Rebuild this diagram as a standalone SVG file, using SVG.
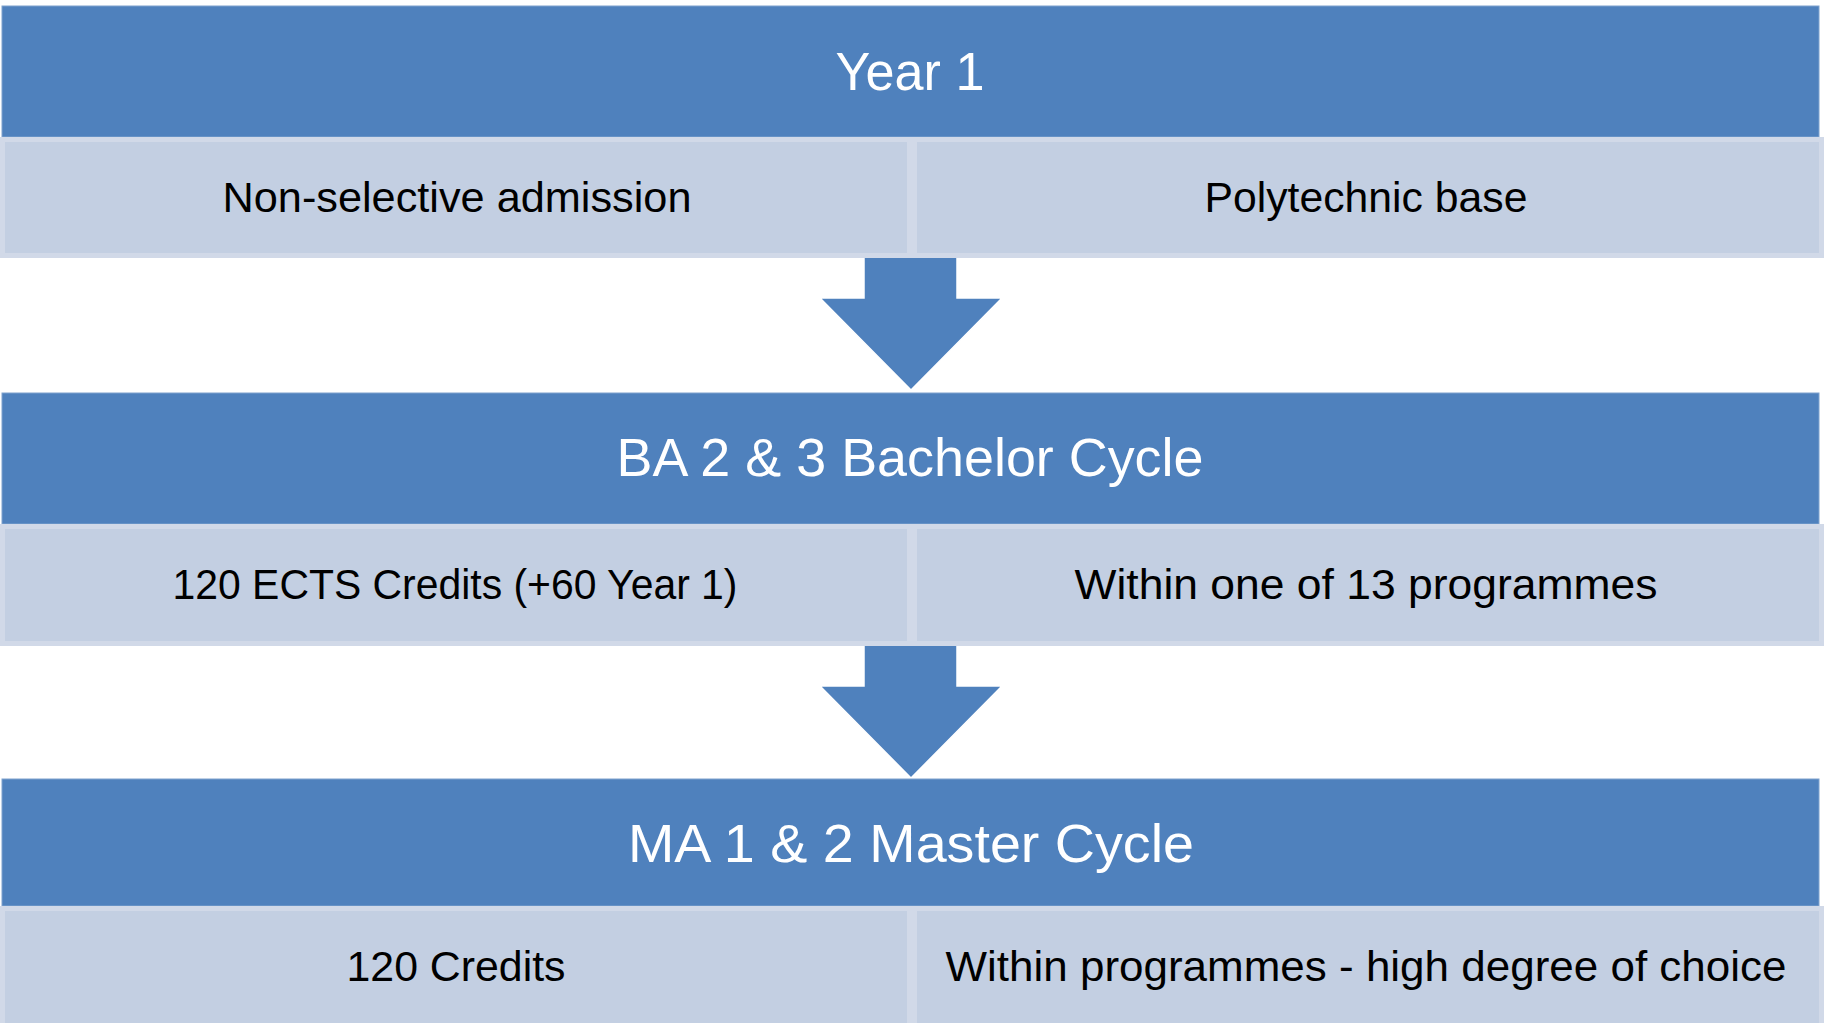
<svg xmlns="http://www.w3.org/2000/svg" width="1828" height="1023" viewBox="0 0 1828 1023">
<defs>
<style>
.bar{fill:#4F81BD;stroke:#7FA2CE;stroke-width:1}
.sub{fill:#C3CFE2;stroke:#D1D9E8;stroke-width:5}
.arrow{fill:#4F81BD;stroke:#FFFFFF;stroke-width:1.5;stroke-linejoin:miter}
.title{font-family:"Liberation Sans",Arial,sans-serif;font-size:53px;fill:#FFFFFF;text-anchor:middle}
.txt{font-family:"Liberation Sans",Arial,sans-serif;font-size:43px;fill:#000000;text-anchor:middle}
</style>
</defs>
<rect width="1828" height="1023" fill="#FFFFFF"/>
<g id="connectors">
<polygon class="arrow" points="864,256 957,256 957,298 1002,298 911,390 820,298 864,298"/>
<polygon class="arrow" points="864,644 957,644 957,686 1002,686 911,778 820,686 864,686"/>
</g>
<g id="year1">
<rect class="bar" x="2" y="6" width="1817" height="131"/>
<text class="title" x="910" y="90" textLength="149" lengthAdjust="spacingAndGlyphs">Year 1</text>
</g>
<g id="year1-left">
<rect class="sub" x="2.5" y="139.5" width="907" height="116"/>
<text class="txt" x="457" y="212" textLength="469" lengthAdjust="spacingAndGlyphs">Non-selective admission</text>
</g>
<g id="year1-right">
<rect class="sub" x="914.5" y="139.5" width="907" height="116"/>
<text class="txt" x="1366" y="212" textLength="323" lengthAdjust="spacingAndGlyphs">Polytechnic base</text>
</g>
<g id="ba">
<rect class="bar" x="2" y="393" width="1817" height="131"/>
<text class="title" x="910" y="476" textLength="587" lengthAdjust="spacingAndGlyphs">BA 2 &amp; 3 Bachelor Cycle</text>
</g>
<g id="ba-left">
<rect class="sub" x="2.5" y="526.5" width="907" height="117"/>
<text class="txt" x="455" y="599" textLength="565" lengthAdjust="spacingAndGlyphs">120 ECTS Credits (+60 Year 1)</text>
</g>
<g id="ba-right">
<rect class="sub" x="914.5" y="526.5" width="907" height="117"/>
<text class="txt" x="1366" y="599" textLength="583" lengthAdjust="spacingAndGlyphs">Within one of 13 programmes</text>
</g>
<g id="ma">
<rect class="bar" x="2" y="779" width="1817" height="127"/>
<text class="title" x="911" y="862" textLength="566" lengthAdjust="spacingAndGlyphs">MA 1 &amp; 2 Master Cycle</text>
</g>
<g id="ma-left">
<rect class="sub" x="2.5" y="908.5" width="907" height="120"/>
<text class="txt" x="456" y="981" textLength="219" lengthAdjust="spacingAndGlyphs">120 Credits</text>
</g>
<g id="ma-right">
<rect class="sub" x="914.5" y="908.5" width="907" height="120"/>
<text class="txt" x="1366" y="981" textLength="841" lengthAdjust="spacingAndGlyphs">Within programmes - high degree of choice</text>
</g>
</svg>
